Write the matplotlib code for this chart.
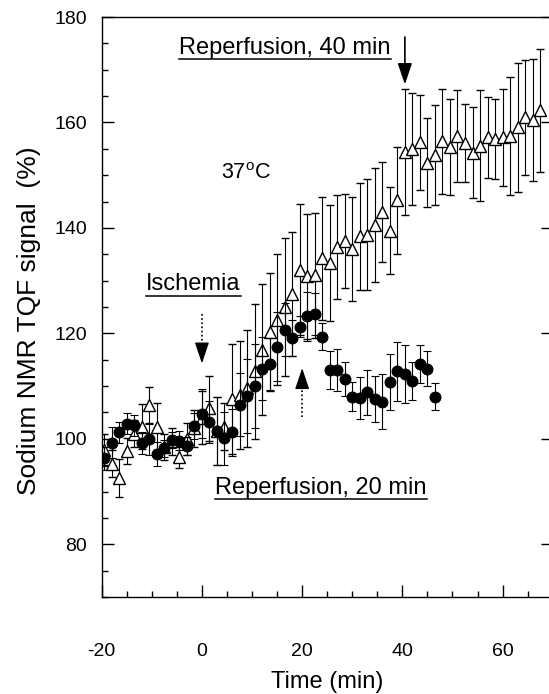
import matplotlib
matplotlib.use('Agg')
import matplotlib.pyplot as plt
from matplotlib.ticker import MultipleLocator
from matplotlib.lines import Line2D

plt.rcParams['font.family'] = ['Liberation Sans', 'DejaVu Sans']
plt.rcParams['axes.unicode_minus'] = False

# 20 min ischemia (filled circles)
time_20 = [-19.5, -18.0, -16.5, -15.0, -13.5, -12.0, -10.5, -9.0, -7.5, -6.0,
           -4.5, -3.0, -1.5, 0.0, 1.5, 3.0, 4.5, 6.0, 7.5, 9.0,
           10.5, 12.0, 13.5, 15.0, 16.5, 18.0, 19.5, 21.0, 22.5, 24.0,
           25.5, 27.0, 28.5, 30.0, 31.5, 33.0, 34.5, 36.0, 37.5, 39.0,
           40.5, 42.0, 43.5, 45.0, 46.5]
sig_20 = [96.3, 99.3, 101.2, 102.9, 102.6, 99.2, 99.9, 97.1, 98.2, 99.8,
          99.6, 98.6, 102.4, 104.8, 103.2, 101.5, 100.1, 101.2, 106.5, 108.1,
          110.0, 113.3, 114.2, 117.5, 120.7, 119.1, 121.3, 123.2, 123.6, 119.4,
          113.1, 113.1, 111.3, 108.0, 107.7, 108.8, 107.6, 107.0, 110.7, 112.8,
          112.3, 111.0, 114.2, 113.3, 108.0]
err_20 = [2.2, 3.0, 2.0, 2.0, 2.0, 2.0, 3.0, 2.3, 1.6, 1.5,
          1.8, 1.7, 2.5, 4.7, 4.0, 6.5, 5.0, 4.5, 6.0, 7.0,
          8.0, 6.0, 5.0, 6.5, 5.0, 3.4, 2.0, 4.6, 4.0, 2.6,
          3.6, 4.0, 3.2, 2.8, 4.0, 4.2, 4.4, 5.2, 5.3, 5.6,
          5.5, 3.6, 3.6, 3.3, 2.6]

# 40 min ischemia (open triangles)
time_40 = [-19.5, -18.0, -16.5, -15.0, -13.5, -12.0, -10.5, -9.0, -7.5, -6.0,
           -4.5, -3.0, -1.5, 0.0, 1.5, 3.0, 4.5, 6.0, 7.5, 9.0,
           10.5, 12.0, 13.5, 15.0, 16.5, 18.0, 19.5, 21.0, 22.5, 24.0,
           25.5, 27.0, 28.5, 30.0, 31.5, 33.0, 34.5, 36.0, 37.5, 39.0,
           40.5, 42.0, 43.5, 45.0, 46.5, 48.0, 49.5, 51.0, 52.5, 54.0,
           55.5, 57.0, 58.5, 60.0, 61.5, 63.0, 64.5, 66.0, 67.5]
sig_40 = [97.9, 95.3, 92.6, 97.7, 101.0, 102.3, 106.4, 102.3, 98.5, 99.5,
          96.5, 100.0, 102.0, 104.0, 105.8, 101.5, 102.3, 107.6, 108.3, 109.6,
          112.8, 116.9, 120.2, 122.6, 125.0, 127.5, 132.1, 130.8, 131.0, 134.2,
          133.4, 136.4, 137.5, 136.0, 138.4, 138.7, 140.5, 143.0, 139.5, 145.2,
          154.4, 155.0, 156.2, 152.4, 153.9, 156.4, 155.4, 157.4, 156.1, 154.3,
          155.6, 157.2, 156.9, 157.2, 157.5, 159.1, 161.0, 160.5, 162.3]
err_40 = [3.0, 2.5, 3.6, 2.5, 2.6, 4.3, 3.4, 4.5, 2.5, 2.5,
          2.0, 3.0, 3.5, 5.0, 6.2, 6.5, 4.5, 10.4, 10.2, 11.1,
          12.8, 12.4, 11.2, 12.4, 13.0, 11.8, 12.5, 11.8, 11.9, 11.7,
          11.0, 9.9, 8.9, 9.8, 10.2, 10.5, 10.8, 9.5, 8.3, 10.2,
          12.0, 10.6, 9.0, 8.5, 9.5, 10.0, 9.1, 8.7, 7.4, 8.7,
          10.5, 7.7, 7.6, 9.2, 11.2, 12.2, 10.9, 11.6, 11.7]

x_ticks = [-20, 0, 20, 40, 60]
y_ticks = [80, 100, 120, 140, 160, 180]

W, H = 549, 694
fig = plt.figure(figsize=(W / 100, H / 100), dpi=100)
ax = fig.add_axes([101.7 / W, 97 / H, 451 / W, 580 / H])

ax.errorbar(time_40, sig_40, yerr=err_40, fmt='^', ms=8.5, mfc='white',
            mec='black', mew=1.0, ecolor='black', elinewidth=0.8,
            capsize=3, capthick=0.8, zorder=2)
ax.errorbar(time_20, sig_20, yerr=err_20, fmt='o', ms=7.8, mfc='black',
            mec='black', mew=0.8, ecolor='black', elinewidth=0.8,
            capsize=3, capthick=0.8, zorder=3)

ax.set_xlim(-20, 70)
ax.set_ylim(70, 180)
ax.set_xticks(x_ticks)
ax.set_yticks(y_ticks)
ax.xaxis.set_minor_locator(MultipleLocator(5))
ax.yaxis.set_minor_locator(MultipleLocator(5))
ax.tick_params(axis='both', which='major', direction='in', length=8.5,
               width=1.0, labelsize=14)
ax.tick_params(axis='both', which='minor', direction='in', length=4,
               width=1.0)
ax.tick_params(axis='x', which='major', pad=33)
ax.tick_params(axis='y', which='major', pad=10.5, right=True)
for sp in ax.spines.values():
    sp.set_linewidth(1.0)

ax.set_xlabel('Time (min)', fontsize=17)
ax.xaxis.set_label_coords(0.5, -0.128)
ax.set_ylabel('Sodium NMR TQF signal  (%)', fontsize=19)
ax.yaxis.set_label_coords(-0.135, 0.476)

# annotations
t40 = ax.text(-4.5, 173.0, 'Reperfusion, 40 min', fontsize=17,
              ha='left', va='baseline')
tis = ax.text(-11.1, 128.2, 'Ischemia', fontsize=17, ha='left', va='baseline')
t20 = ax.text(2.7, 89.6, 'Reperfusion, 20 min', fontsize=17,
              ha='left', va='baseline')
ax.text(3.9, 149.3, '37$^{\\mathregular{o}}$C', fontsize=15.5,
        ha='left', va='baseline')

# arrows
head = '-|>,head_length=0.65,head_width=0.22'
ax.annotate('', xy=(40.5, 167.2), xytext=(40.5, 176.2),
            arrowprops=dict(arrowstyle=head, mutation_scale=20, color='black',
                            lw=1.2, shrinkA=0, shrinkB=0))
# dotted shafts with solid heads
ax.plot([0.0, 0.0], [123.6, 117.6], color='black', lw=1.2,
        linestyle=(0, (1, 1.5)))
ax.annotate('', xy=(0.0, 114.3), xytext=(0.0, 117.9),
            arrowprops=dict(arrowstyle=head, mutation_scale=20, color='black',
                            lw=1.0, shrinkA=0, shrinkB=0))
ax.plot([20.0, 20.0], [104.2, 110.2], color='black', lw=1.2,
        linestyle=(0, (1, 1.5)))
ax.annotate('', xy=(20.0, 113.4), xytext=(20.0, 109.8),
            arrowprops=dict(arrowstyle=head, mutation_scale=20, color='black',
                            lw=1.0, shrinkA=0, shrinkB=0))

# underlines
fig.canvas.draw()
renderer = fig.canvas.get_renderer()
inv = fig.transFigure.inverted()
for txt in (t40, tis, t20):
    bb = txt.get_window_extent(renderer)
    base_y = ax.transData.transform(txt.get_position())[1]
    yline = base_y - 5.5
    p0 = inv.transform((bb.x0, yline))
    p1 = inv.transform((bb.x1, yline))
    fig.add_artist(Line2D([p0[0], p1[0]], [p0[1], p1[1]],
                          transform=fig.transFigure, color='black', lw=1.1))

fig.savefig('out.png', dpi=100)
